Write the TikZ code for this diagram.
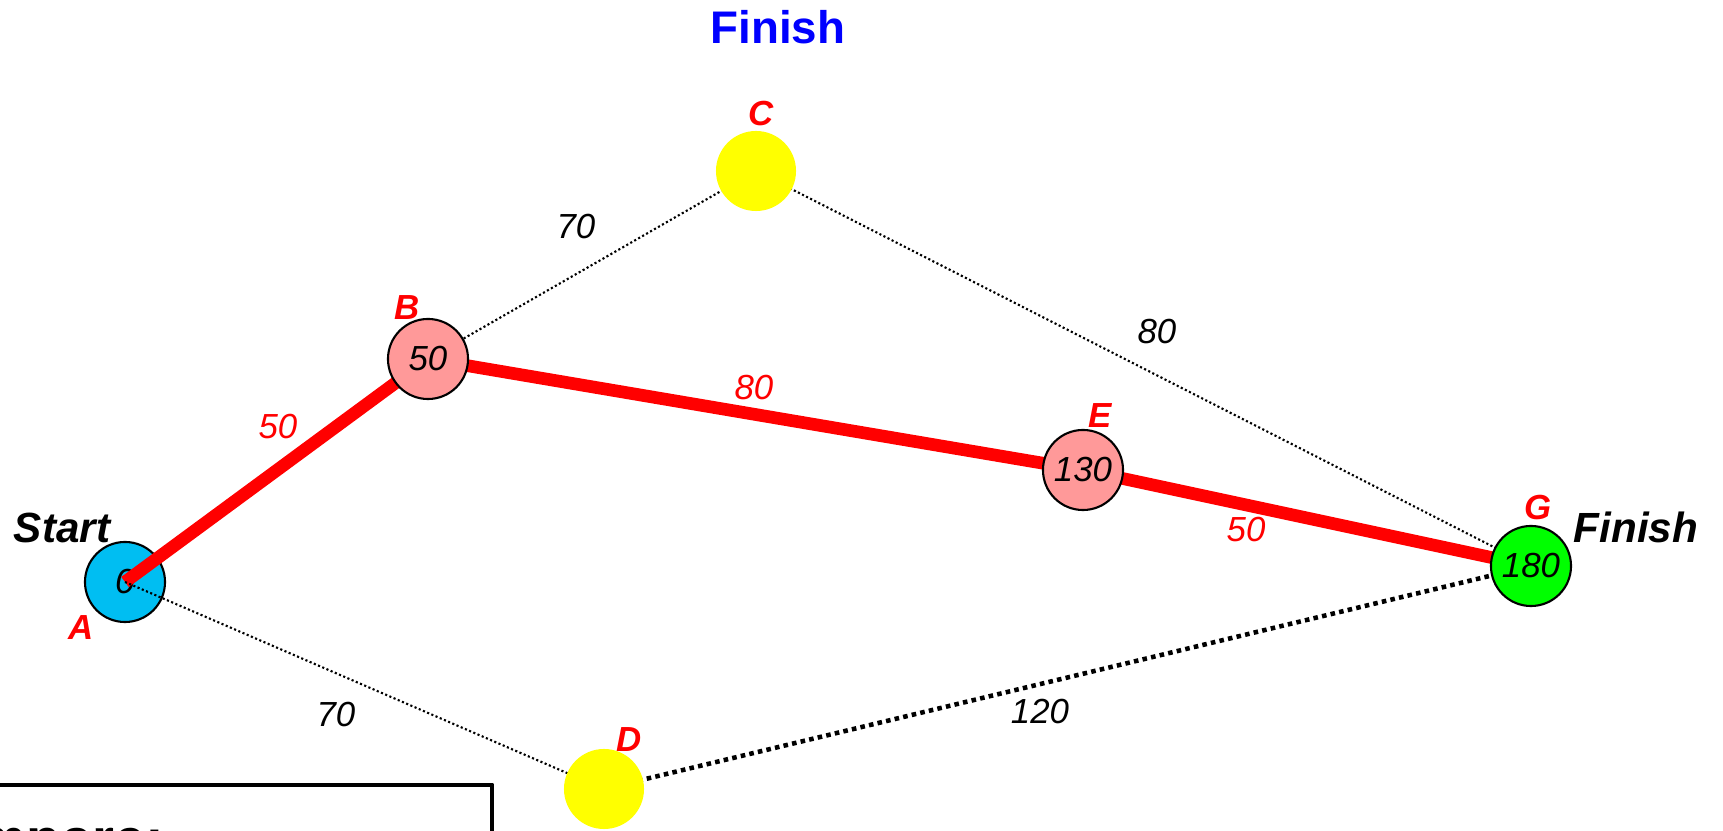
\documentclass[tikz,border=0pt]{standalone}
\usepackage{fontspec}
\setmainfont{Liberation Sans}
\definecolor{startblue}{RGB}{0,190,242}
\definecolor{visitpink}{RGB}{255,153,153}
\definecolor{goalgreen}{RGB}{0,255,0}
\definecolor{openyellow}{RGB}{255,255,0}
\pgfdeclarelayer{bottom}
\pgfdeclarelayer{edges}
\pgfsetlayers{bottom,edges,main}
\begin{document}
\begin{tikzpicture}[x=0.01cm,y=-0.01cm,line join=round,
	vertex/.style={circle,draw=black,line width=0.6pt,minimum size=0.8cm,inner sep=0pt,font=\fontsize{9.9}{11}\selectfont\itshape},
	route/.style={red,line width=3.6pt},
	link/.style={line width=0.6pt,dash pattern=on 0.6pt off 0.7pt},
	linkb/.style={line width=1.3pt,dash pattern=on 1.3pt off 1.2pt},
	lbl/.style={text=red,inner sep=0pt,font=\fontsize{9.9}{11}\selectfont\bfseries\itshape},
	wt/.style={inner sep=0pt,font=\fontsize{9.9}{11}\selectfont\itshape},
	wtr/.style={wt,text=red},
	tag/.style={inner sep=0pt,font=\fontsize{12}{14}\selectfont\bfseries\itshape}]
	\useasboundingbox (0,0) rectangle (1723,831);
	\clip (0,0) rectangle (1723,831);
	\begin{pgfonlayer}{bottom}
	\node[vertex,fill=startblue] (A) at (125,582) {0};
	\end{pgfonlayer}
	\node[vertex,fill=visitpink] (B) at (428,359) {50};
	\node[vertex,fill=openyellow,draw=none] (C) at (756,171) {};
	\node[vertex,fill=openyellow,draw=none] (D) at (604,789) {};
	\node[vertex,fill=visitpink] (E) at (1083,470) {130};
	\node[vertex,fill=goalgreen] (G) at (1531,566) {180};
	\begin{pgfonlayer}{edges}
	\draw[route] (A.center) -- (B.center) -- (E.center) -- (G.center);
	\draw[link] (B.center) -- (C.center) -- (G.center);
	\draw[link] (A.center) -- (D.center);
	\draw[linkb] (D.center) -- (G.center);
	\end{pgfonlayer}
	% node letters
	\node[lbl] (lA) at (81,628) {A};
	\node[lbl] (lB) at (407,308) {B};
	\node[lbl] (lC) at (761,114) {C};
	\node[lbl] (lD) at (629,740) {D};
	\node[lbl] (lE) at (1100,416) {E};
	\node[lbl] (lG) at (1538,508) {G};
	% weights
	\node[wtr] (wAB) at (278,427) {50};
	\node[wtr] (wBE) at (754,388) {80};
	\node[wtr] (wEG) at (1246,530) {50};
	\node[wt] (wBC) at (576,227) {70};
	\node[wt] (wCG) at (1157,332) {80};
	\node[wt] (wAD) at (336,715) {70};
	\node[wt] (wDG) at (1040,712) {120};
	\node[tag] (start) at (62,528) {Start};
	\node[tag] (finish) at (1636,527) {Finish};
	\node[inner sep=0pt,text=blue,font=\fontsize{13}{15}\selectfont\bfseries] (top) at (778,27) {Finish};
	% compare box
	\draw[line width=1.4pt] (-50,785) rectangle (492,900);
	\node[anchor=base east,inner sep=0pt,font=\fontsize{16}{18}\selectfont\bfseries] (cmp) at (165,859) {Compare:};
\end{tikzpicture}
\end{document}
